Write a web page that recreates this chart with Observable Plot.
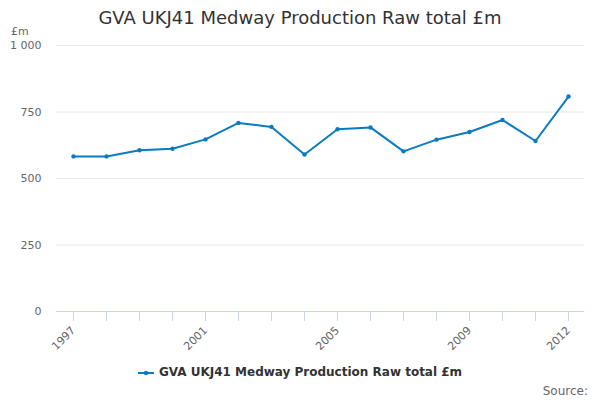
<!DOCTYPE html>
<html>
<head>
<meta charset="utf-8">
<script src="https://cdn.jsdelivr.net/npm/d3@7"></script>
<script src="https://cdn.jsdelivr.net/npm/@observablehq/plot@0.6"></script>
<style>
  html, body { margin: 0; padding: 0; background: #fff; }
  #wrap { position: relative; width: 600px; height: 400px; font-family: "DejaVu Sans", sans-serif; overflow: hidden; }
  #title { position: absolute; top: 7px; left: 0; width: 600px; text-align: center; font-size: 18px; color: #333333; white-space: nowrap; }
  #unit { position: absolute; top: 25px; left: 11px; font-size: 11px; color: #666666; }
  #chart { position: absolute; top: 0; left: 0; }
  #legend { position: absolute; top: 365px; left: 0; width: 600px; text-align: center; font-size: 12px; font-weight: bold; color: #333333; white-space: nowrap; }
  #legend svg { vertical-align: middle; margin-right: 5px; }
  #source { position: absolute; top: 384px; right: 12px; font-size: 12px; color: #666666; }
</style>
</head>
<body>
<div id="wrap">
  <div id="chart"></div>
  <div id="title">GVA UKJ41 Medway Production Raw total £m</div>
  <div id="unit">£m</div>
  <div id="legend"></div>
  <div id="source">Source:</div>
</div>
<script>
const seriesName = "GVA UKJ41 Medway Production Raw total £m";
const years = [1997, 1998, 1999, 2000, 2001, 2002, 2003, 2004, 2005, 2006, 2007, 2008, 2009, 2010, 2011, 2012];
const values = [583, 583, 606, 612, 647, 709, 694, 590, 685, 692, 602, 646, 675, 720, 641, 808];
const labeledYears = [1997, 2001, 2005, 2009, 2012];
const yTicks = [0, 250, 500, 750, 1000];

const color = "#0a7bc2";
const data = years.map((y, i) => ({year: y, value: values[i]}));
const fmt = d3.formatLocale({decimal: ".", thousands: " ", grouping: [3], currency: ["", ""]}).format(",");

const chart = Plot.plot({
  width: 600,
  height: 400,
  marginTop: 45,
  marginBottom: 89,
  marginLeft: 56,
  marginRight: 16,
  style: {fontFamily: "DejaVu Sans, sans-serif", background: "transparent"},
  x: {type: "point", domain: years, padding: 0.5},
  y: {domain: [0, 1000]},
  marks: [
    Plot.gridY(yTicks, {stroke: "#e6e6e6", strokeOpacity: 1}),
    Plot.axisY(yTicks, {tickSize: 0, tickPadding: 15, tickFormat: fmt, fill: "#666666", fontSize: 11, label: null}),
    Plot.axisX(years, {tickSize: 10, stroke: "#ccd6eb", strokeOpacity: 1, tickPadding: 7, tickRotate: -45,
      tickFormat: d => labeledYears.includes(d) ? String(d) : "", fill: "#666666", fontSize: 11, label: null}),
    Plot.ruleY([0], {stroke: "#ccd6eb"}),
    Plot.line(data, {x: "year", y: "value", stroke: color, strokeWidth: 2}),
    Plot.dot(data, {x: "year", y: "value", r: 2.2, fill: color})
  ]
});
document.getElementById("chart").appendChild(chart);

const legend = document.getElementById("legend");
legend.innerHTML = `<svg width="16" height="10"><line x1="0" x2="16" y1="5" y2="5" stroke="${color}" stroke-width="2"/><circle cx="8" cy="5" r="2.2" fill="${color}"/></svg>`;
legend.appendChild(document.createTextNode(seriesName));
</script>
</body>
</html>
